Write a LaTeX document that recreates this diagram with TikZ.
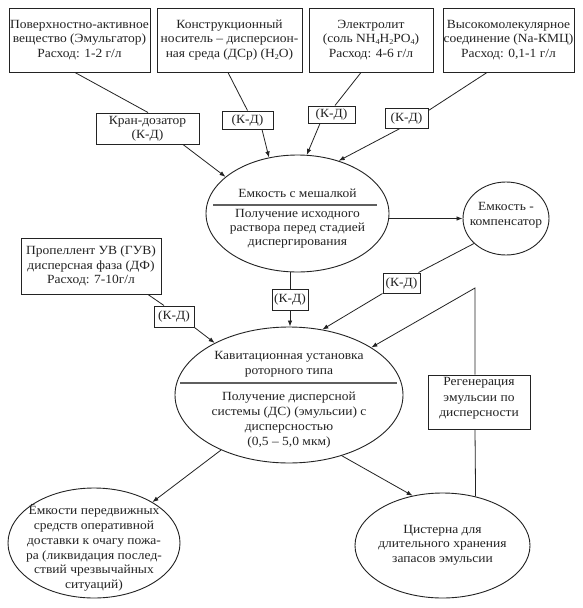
\documentclass[tikz,border=0pt]{standalone}
\usepackage{fontspec}
\setmainfont{Liberation Serif}[FakeStretch=1.08]
\usetikzlibrary{arrows.meta,shapes.geometric,calc}
\definecolor{ink}{RGB}{35,35,35}
\definecolor{rulecol}{RGB}{95,95,95}
\newcommand{\mysub}[1]{\raisebox{-0.3ex}{\fontsize{7.5}{8}\selectfont #1}}
\begin{document}
\begin{tikzpicture}[x=1pt,y=-1pt,
  every node/.style={text=ink, font=\fontsize{12.5}{14.5}\selectfont, align=center, inner sep=0pt},
  boxnode/.style={draw=ink, line width=1pt, rectangle},
  ellnode/.style={draw=ink, line width=0.9pt, ellipse},
  ln/.style={draw=ink, line width=0.8pt},
  arr/.style={ln, -{Latex[length=6pt,width=4.5pt]}},
  divider/.style={draw=rulecol, line width=1.8pt}
]
\fill[white] (0,0) rectangle (582,608);
\useasboundingbox (0,0) rectangle (582,608);

% top boxes
\node[boxnode, minimum width=141, minimum height=64] (b1) at (79.5,40) {Поверхностно-активное\\вещество (Эмульгатор)\\Расход: 1-2 г/л};
\node[boxnode, minimum width=145, minimum height=64] (b2) at (229.5,40) {Конструкционный\\носитель – дисперсион-\\ная среда (ДСр) (H\mysub{2}O)};
\node[boxnode, minimum width=124, minimum height=64] (b3) at (371,40) {Электролит\\(соль NH\mysub{4}H\mysub{2}PO\mysub{4})\\Расход: 4-6 г/л};
\node[boxnode, minimum width=131, minimum height=64] (b4) at (508.5,40) {Высокомолекулярное\\соединение (Na-КМЦ)\\Расход: 0,1-1 г/л};

% dosing boxes
\node[boxnode, minimum width=103, minimum height=31] (kran) at (147.5,128.5) {Кран-дозатор\\(К-Д)};
\node[boxnode, minimum width=51, minimum height=18] (kd2) at (247.5,120) {(К-Д)};
\node[boxnode, minimum width=47, minimum height=17] (kd3) at (331.5,114.5) {(К-Д)};
\node[boxnode, minimum width=43, minimum height=20] (kd4) at (406.5,118) {(К-Д)};

% mixing vessel
\node[ellnode, minimum width=183, minimum height=117] (e1) at (297.5,213.5) {};
\node (t1a) at (297.5,193) {Емкость с мешалкой};
\coordinate (d1a) at (213,205);
\coordinate (d1b) at (377,205);
\draw[divider] (d1a) -- (d1b);
\node[font=\fontsize{12.5}{14}\selectfont] (t1b) at (297.5,229) {Получение исходного\\раствора перед стадией\\диспергирования};

% compensator
\node[ellnode, minimum width=86, minimum height=73] (comp) at (506,218.5) {};
\node[font=\fontsize{12.5}{15}\selectfont] (tc) at (506,215.5) {Емкость -\\компенсатор};

% second stage dosing
\node[boxnode, minimum width=36, minimum height=21] (kdc) at (290,299.5) {(К-Д)};
\node[boxnode, minimum width=37, minimum height=20] (kdr) at (401.5,283) {(К-Д)};
\node[boxnode, minimum width=140, minimum height=56] (prop) at (91,266) {Пропеллент УВ (ГУВ)\\дисперсная фаза (ДФ)\\Расход: 7-10г/л};
\node[boxnode, minimum width=40, minimum height=21] (kdp) at (174,316.5) {(К-Д)};

% cavitation unit
\node[ellnode, minimum width=228, minimum height=136] (e2) at (289,395) {};
\node[font=\fontsize{12.5}{15}\selectfont] (t2a) at (289,364.5) {Кавитационная установка\\роторного типа};
\coordinate (d2a) at (180,383);
\coordinate (d2b) at (397,383);
\draw[divider] (d2a) -- (d2b);
\node[font=\fontsize{12.5}{15.3}\selectfont] (t2b) at (289,420) {Получение дисперсной\\системы (ДС) (эмульсии) с\\дисперсностью\\(0,5 – 5,0 мкм)};

% regeneration
\node[boxnode, minimum width=102, minimum height=54] (regen) at (479,402) {};
\node[font=\fontsize{12.5}{15.5}\selectfont] (tr) at (479,398.5) {Регенерация\\эмульсии по\\дисперсности};

% bottom vessels
\node[ellnode, minimum width=172, minimum height=110] (e3) at (94,543) {};
\node[font=\fontsize{12.5}{14.8}\selectfont] (t3) at (94,548) {Ёмкости передвижных\\средств оперативной\\доставки к очагу пожа-\\ра (ликвидация послед-\\ствий чрезвычайных\\ситуаций)};
\node[ellnode, minimum width=175, minimum height=105] (e4) at (442.5,545.5) {};
\node[font=\fontsize{12.5}{14.5}\selectfont] (t4) at (442.5,545) {Цистерна для\\длительного хранения\\запасов эмульсии};

% connectors
\draw[ln] ([xshift=-4.5]b1.south) -- ([xshift=0.5]kran.north);
\draw[arr] ([xshift=35.5]kran.south) -- (e1.153);
\draw[ln] ([xshift=-1.5]b2.south) -- (kd2.north);
\draw[arr] ([xshift=14.5]kd2.south) -- (e1.117);
\draw[ln] ([xshift=-10]b3.south) -- ([xshift=3.5]kd3.north);
\draw[arr] ([xshift=-11.5]kd3.south) -- (e1.81);
\draw[ln] ([xshift=-21.5]b4.south) -- ([yshift=-3]kd4.north east);
\draw[arr] ([xshift=-6.5]kd4.south) -- (e1.52);
\draw[arr] (e1.east |- comp.west) -- (comp.west);
\draw[ln] (kdc.north |- e1.south) -- (kdc.north);
\draw[arr] (kdc.south) -- (kdc.south |- e2.north);
\draw[ln] (comp.218) -- ([xshift=-2]kdr.north east);
\draw[arr] (kdr.south west) -- (e2.63);
\draw[ln] ([xshift=57]prop.south) -- ([xshift=-10]kdp.north);
\draw[arr] (kdp.south east) -- (e2.145);
\coordinate (rt) at (475,288);
\draw[arr] (regen.north -| rt) -- (rt) -- (e2.30);
\draw[ln] (regen.south -| rt) -- (e4.56);
\draw[arr] (e2.219) -- (e3.35);
\draw[arr] (e2.311) -- (e4.121);
\end{tikzpicture}
\end{document}
